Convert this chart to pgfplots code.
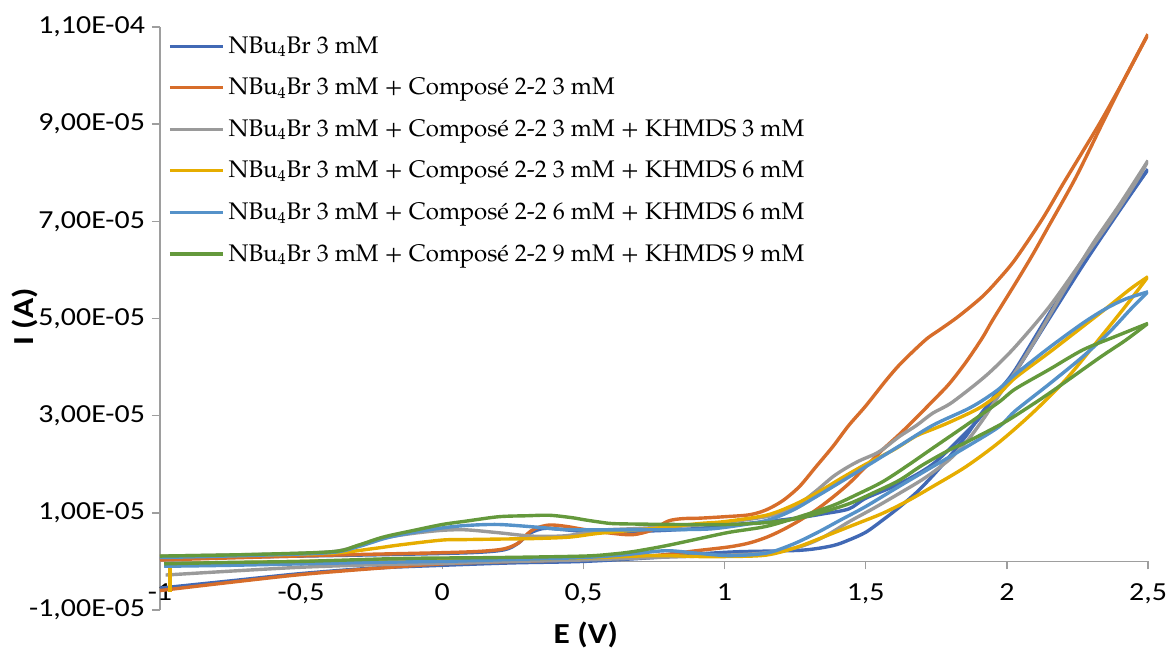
\documentclass[border=0pt]{standalone}
\usepackage{pgfplots}
\pgfplotsset{compat=1.18}
\usepackage{fontspec}
\setmainfont{Carlito}
\newfontfamily\tickfont{Carlito}[FakeStretch=1.15]
\newfontfamily\legfont{TeX Gyre Pagella}
\definecolor{cBlue}{HTML}{4169B5}
\definecolor{cOrange}{HTML}{D76D2A}
\definecolor{cGray}{HTML}{9A9A9A}
\definecolor{cYellow}{HTML}{E6AD00}
\definecolor{cLBlue}{HTML}{5592C9}
\definecolor{cGreen}{HTML}{64993C}
\begin{document}
\begin{tikzpicture}
\begin{axis}[
 name=ax,
 scale only axis, width=494pt, height=291.5pt,
 xmin=-1, xmax=2.5, ymin=-1e-5, ymax=1.1e-4,
 axis x line*=middle, axis y line*=left,
 hide obscured x ticks=false,
 axis line style={draw=black!38, line width=0.7pt},
 tick style={draw=black!38, line width=0.7pt},
 tick align=outside, major tick length=4pt,
 xtick={-1,-0.5,0,0.5,1,1.5,2,2.5},
 xticklabels={{-1},{-0,5},{0},{0,5},{1},{1,5},{2},{2,5}},
 ytick={-1e-5,1e-5,3e-5,5e-5,7e-5,9e-5,1.1e-4},
 yticklabels={{-1,00E-05},{1,00E-05},{3,00E-05},{5,00E-05},{7,00E-05},{9,00E-05},{1,10E-04}},
 scaled y ticks=false, scaled x ticks=false,
 /pgf/number format/assume math mode=true,
 ticklabel style={font=\tickfont\fontsize{13}{15}\selectfont},
 xticklabel style={yshift=-3.5pt},
 xlabel={E (V)}, ylabel={I (A)},
 label style={font=\tickfont\bfseries\fontsize{14.5}{16}\selectfont},
 xlabel style={at={(axis description cs:0.431,-0.043)}, anchor=center},
 ylabel style={at={(axis description cs:-0.137,0.503)}, anchor=center},
 legend style={at={(axis description cs:0,1)}, anchor=north west, xshift=2pt, yshift=-0.5pt,
   draw=none, fill=none, font=\legfont\fontsize{12}{14}\selectfont, row sep=6.8pt, inner sep=2pt},
 legend cell align=left,
 legend image code/.code={\draw[#1, line width=1.6pt] (0pt,0pt) -- (26.5pt,0pt);},
 every axis plot/.append style={line width=1.7pt, smooth, tension=0.5},
]
% ---- Blue
\addplot[cBlue] coordinates {(-1,-0.55e-5) (-0.75,-0.40e-5) (-0.5,-0.25e-5) (-0.25,-0.14e-5) (0,-0.08e-5) (0.25,-0.03e-5) (0.5,0.0e-5) (0.75,0.08e-5) (0.9,0.15e-5) (1.05,0.2e-5) (1.27,0.23e-5) (1.38,0.32e-5) (1.44,0.44e-5) (1.5,0.6e-5) (1.56,0.85e-5) (1.62,1.12e-5) (1.68,1.42e-5) (1.74,1.78e-5) (1.8,2.18e-5) (1.86,2.62e-5) (1.91,3.05e-5) (1.97,3.5e-5) (2.03,3.95e-5) (2.15,5.1e-5) (2.27,6.2e-5) (2.385,7.15e-5) (2.5,8.07e-5)};
\addlegendentry{NBu\textsubscript{4}Br 3 mM}
\addplot[cBlue, forget plot] coordinates {(2.5,8.07e-5) (2.385,7.1e-5) (2.27,6.1e-5) (2.15,5.0e-5) (2.03,3.9e-5) (1.97,3.5e-5) (1.91,3.0e-5) (1.855,2.65e-5) (1.737,2.0e-5) (1.62,1.6e-5) (1.5,1.3e-5) (1.44,1.08e-5) (1.35,0.98e-5) (1.265,0.9e-5) (1.15,0.82e-5) (1.0,0.74e-5) (0.91,0.68e-5) (0.75,0.63e-5) (0.6,0.62e-5) (0.5,0.62e-5) (0.42,0.66e-5) (0.36,0.68e-5) (0.31,0.58e-5) (0.27,0.38e-5) (0.22,0.24e-5) (0.1,0.18e-5) (-0.2,0.14e-5) (-0.6,0.1e-5) (-1,0.06e-5)};
% ---- Orange
\addplot[cOrange] coordinates {(-1,-0.6e-5) (-0.75,-0.43e-5) (-0.5,-0.27e-5) (-0.25,-0.15e-5) (0,-0.05e-5) (0.25,0.0e-5) (0.5,0.04e-5) (0.75,0.12e-5) (0.9,0.22e-5) (1.017,0.30e-5) (1.088,0.38e-5) (1.15,0.5e-5) (1.206,0.65e-5) (1.265,0.84e-5) (1.324,1.06e-5) (1.383,1.32e-5) (1.442,1.61e-5) (1.5,1.95e-5) (1.56,2.3e-5) (1.62,2.62e-5) (1.678,2.95e-5) (1.737,3.3e-5) (1.795,3.65e-5) (1.855,4.1e-5) (1.913,4.6e-5) (1.95,4.97e-5) (2.03,5.72e-5) (2.09,6.3e-5) (2.15,6.92e-5) (2.244,7.9e-5) (2.337,9.0e-5) (2.42,9.97e-5) (2.5,10.85e-5)};
\addlegendentry{NBu\textsubscript{4}Br 3 mM + Composé 2-2 3 mM}
\addplot[cOrange, forget plot] coordinates {(2.5,10.85e-5) (2.42,9.97e-5) (2.337,9.1e-5) (2.27,8.45e-5) (2.197,7.75e-5) (2.126,7.05e-5) (2.03,6.22e-5) (1.97,5.8e-5) (1.913,5.45e-5) (1.83,5.05e-5) (1.76,4.76e-5) (1.72,4.6e-5) (1.678,4.38e-5) (1.62,4.05e-5) (1.571,3.72e-5) (1.5,3.2e-5) (1.44,2.8e-5) (1.383,2.36e-5) (1.324,1.95e-5) (1.265,1.54e-5) (1.206,1.25e-5) (1.147,1.06e-5) (1.088,0.96e-5) (1.0,0.92e-5) (0.911,0.89e-5) (0.85,0.88e-5) (0.8,0.83e-5) (0.74,0.64e-5) (0.674,0.55e-5) (0.6,0.58e-5) (0.5,0.66e-5) (0.44,0.72e-5) (0.38,0.75e-5) (0.33,0.68e-5) (0.3,0.56e-5) (0.27,0.38e-5) (0.22,0.26e-5) (0.14,0.21e-5) (0,0.18e-5) (-0.39,0.13e-5) (-0.7,0.08e-5) (-1,0.03e-5)};
% ---- Gray
\addplot[cGray] coordinates {(-0.98,-0.28e-5) (-0.75,-0.2e-5) (-0.5,-0.12e-5) (-0.25,-0.07e-5) (0,-0.04e-5) (0.25,0.0e-5) (0.5,0.03e-5) (0.75,0.08e-5) (1.017,0.13e-5) (1.15,0.18e-5) (1.265,0.30e-5) (1.35,0.5e-5) (1.442,0.82e-5) (1.53,1.1e-5) (1.619,1.40e-5) (1.71,1.72e-5) (1.795,2.09e-5) (1.855,2.45e-5) (1.913,2.9e-5) (1.97,3.4e-5) (2.03,3.9e-5) (2.1,4.55e-5) (2.2,5.55e-5) (2.3,6.5e-5) (2.4,7.35e-5) (2.5,8.25e-5)};
\addlegendentry{NBu\textsubscript{4}Br 3 mM + Composé 2-2 3 mM + KHMDS 3 mM}
\addplot[cGray, forget plot] coordinates {(2.5,8.25e-5) (2.467,7.9e-5) (2.385,7.16e-5) (2.268,6.20e-5) (2.15,5.24e-5) (2.03,4.42e-5) (1.95,3.95e-5) (1.89,3.65e-5) (1.8,3.25e-5) (1.737,3.05e-5) (1.68,2.8e-5) (1.619,2.57e-5) (1.57,2.35e-5) (1.536,2.22e-5) (1.477,2.07e-5) (1.43,1.92e-5) (1.383,1.74e-5) (1.324,1.45e-5) (1.265,1.19e-5) (1.206,1.02e-5) (1.147,0.92e-5) (1.0,0.8e-5) (0.911,0.75e-5) (0.7,0.68e-5) (0.557,0.64e-5) (0.44,0.53e-5) (0.32,0.52e-5) (0.2,0.59e-5) (0.085,0.65e-5) (0.0,0.64e-5) (-0.1,0.58e-5) (-0.21,0.48e-5) (-0.3,0.32e-5) (-0.39,0.2e-5) (-0.6,0.15e-5) (-1,0.11e-5)};
% ---- Yellow
\addplot[cYellow] coordinates {(-0.965,-0.05e-5) (-0.75,-0.03e-5) (-0.5,0.0e-5) (-0.25,0.02e-5) (0,0.03e-5) (0.25,0.05e-5) (0.5,0.07e-5) (0.75,0.12e-5) (0.911,0.1e-5) (1.0,0.1e-5) (1.147,0.13e-5) (1.26,0.3e-5) (1.383,0.58e-5) (1.47,0.78e-5) (1.56,0.99e-5) (1.65,1.25e-5) (1.737,1.54e-5) (1.855,1.95e-5) (1.972,2.45e-5) (2.09,3.05e-5) (2.21,3.75e-5) (2.33,4.6e-5) (2.42,5.25e-5) (2.5,5.86e-5)};
\addlegendentry{NBu\textsubscript{4}Br 3 mM + Composé 2-2 3 mM + KHMDS 6 mM}
\addplot[cYellow, forget plot, sharp plot] coordinates {(-0.965,-0.62e-5) (-0.965,-0.05e-5)};
\addplot[cYellow, forget plot] coordinates {(2.5,5.86e-5) (2.44,5.62e-5) (2.35,5.2e-5) (2.268,4.83e-5) (2.15,4.3e-5) (2.03,3.78e-5) (1.972,3.45e-5) (1.9,3.15e-5) (1.795,2.86e-5) (1.737,2.72e-5) (1.678,2.58e-5) (1.6,2.3e-5) (1.5,2.0e-5) (1.41,1.7e-5) (1.324,1.40e-5) (1.24,1.15e-5) (1.147,0.95e-5) (1.0,0.82e-5) (0.911,0.78e-5) (0.75,0.68e-5) (0.557,0.58e-5) (0.45,0.5e-5) (0.32,0.47e-5) (0.2,0.46e-5) (0.085,0.45e-5) (0,0.44e-5) (-0.15,0.34e-5) (-0.25,0.26e-5) (-0.39,0.17e-5) (-0.7,0.12e-5) (-1,0.1e-5)};
% ---- Light blue
\addplot[cLBlue] coordinates {(-0.985,-0.1e-5) (-0.75,-0.08e-5) (-0.5,-0.05e-5) (-0.25,-0.02e-5) (0,0.0e-5) (0.25,0.04e-5) (0.5,0.08e-5) (0.65,0.14e-5) (0.79,0.22e-5) (0.9,0.17e-5) (1.017,0.12e-5) (1.147,0.17e-5) (1.24,0.35e-5) (1.324,0.58e-5) (1.41,0.85e-5) (1.5,1.13e-5) (1.62,1.55e-5) (1.737,1.95e-5) (1.855,2.35e-5) (1.972,2.77e-5) (2.03,3.1e-5) (2.15,3.65e-5) (2.268,4.21e-5) (2.36,4.7e-5) (2.44,5.2e-5) (2.5,5.55e-5)};
\addlegendentry{NBu\textsubscript{4}Br 3 mM + Composé 2-2 6 mM + KHMDS 6 mM}
\addplot[cLBlue, forget plot] coordinates {(2.5,5.55e-5) (2.42,5.4e-5) (2.35,5.2e-5) (2.268,4.90e-5) (2.15,4.4e-5) (2.03,3.85e-5) (1.972,3.55e-5) (1.91,3.3e-5) (1.855,3.12e-5) (1.737,2.8e-5) (1.62,2.38e-5) (1.5,1.95e-5) (1.41,1.63e-5) (1.324,1.33e-5) (1.24,1.05e-5) (1.147,0.84e-5) (1.0,0.7e-5) (0.911,0.66e-5) (0.674,0.65e-5) (0.5,0.65e-5) (0.42,0.66e-5) (0.345,0.7e-5) (0.2,0.76e-5) (0.085,0.74e-5) (0,0.69e-5) (-0.1,0.6e-5) (-0.2,0.48e-5) (-0.3,0.3e-5) (-0.4,0.18e-5) (-0.7,0.12e-5) (-1,0.08e-5)};
% ---- Green
\addplot[cGreen] coordinates {(-0.985,-0.05e-5) (-0.75,-0.02e-5) (-0.5,0.0e-5) (-0.15,0.06e-5) (0.2,0.08e-5) (0.5,0.11e-5) (0.6,0.15e-5) (0.674,0.2e-5) (0.79,0.32e-5) (0.911,0.47e-5) (1.017,0.6e-5) (1.147,0.72e-5) (1.265,0.92e-5) (1.383,1.15e-5) (1.47,1.38e-5) (1.56,1.64e-5) (1.65,1.98e-5) (1.737,2.33e-5) (1.855,2.8e-5) (1.972,3.28e-5) (2.03,3.55e-5) (2.15,3.95e-5) (2.268,4.35e-5) (2.38,4.62e-5) (2.5,4.9e-5)};
\addlegendentry{NBu\textsubscript{4}Br 3 mM + Composé 2-2 9 mM + KHMDS 9 mM}
\addplot[cGreen, forget plot] coordinates {(2.5,4.9e-5) (2.42,4.55e-5) (2.33,4.2e-5) (2.15,3.46e-5) (2.03,3.0e-5) (1.972,2.8e-5) (1.855,2.45e-5) (1.795,2.29e-5) (1.7,1.98e-5) (1.619,1.67e-5) (1.53,1.42e-5) (1.442,1.19e-5) (1.35,1.02e-5) (1.265,0.89e-5) (1.15,0.8e-5) (1.017,0.76e-5) (0.85,0.76e-5) (0.674,0.77e-5) (0.6,0.78e-5) (0.557,0.81e-5) (0.5,0.86e-5) (0.46,0.9e-5) (0.38,0.95e-5) (0.3,0.94e-5) (0.2,0.92e-5) (0.085,0.83e-5) (0,0.76e-5) (-0.1,0.64e-5) (-0.21,0.5e-5) (-0.3,0.33e-5) (-0.39,0.2e-5) (-0.7,0.14e-5) (-1,0.11e-5)};
\end{axis}
\pgfresetboundingbox
\path (ax.south west) ++(-80pt,-20pt) rectangle ++(584pt,325pt);
\end{tikzpicture}
\end{document}
